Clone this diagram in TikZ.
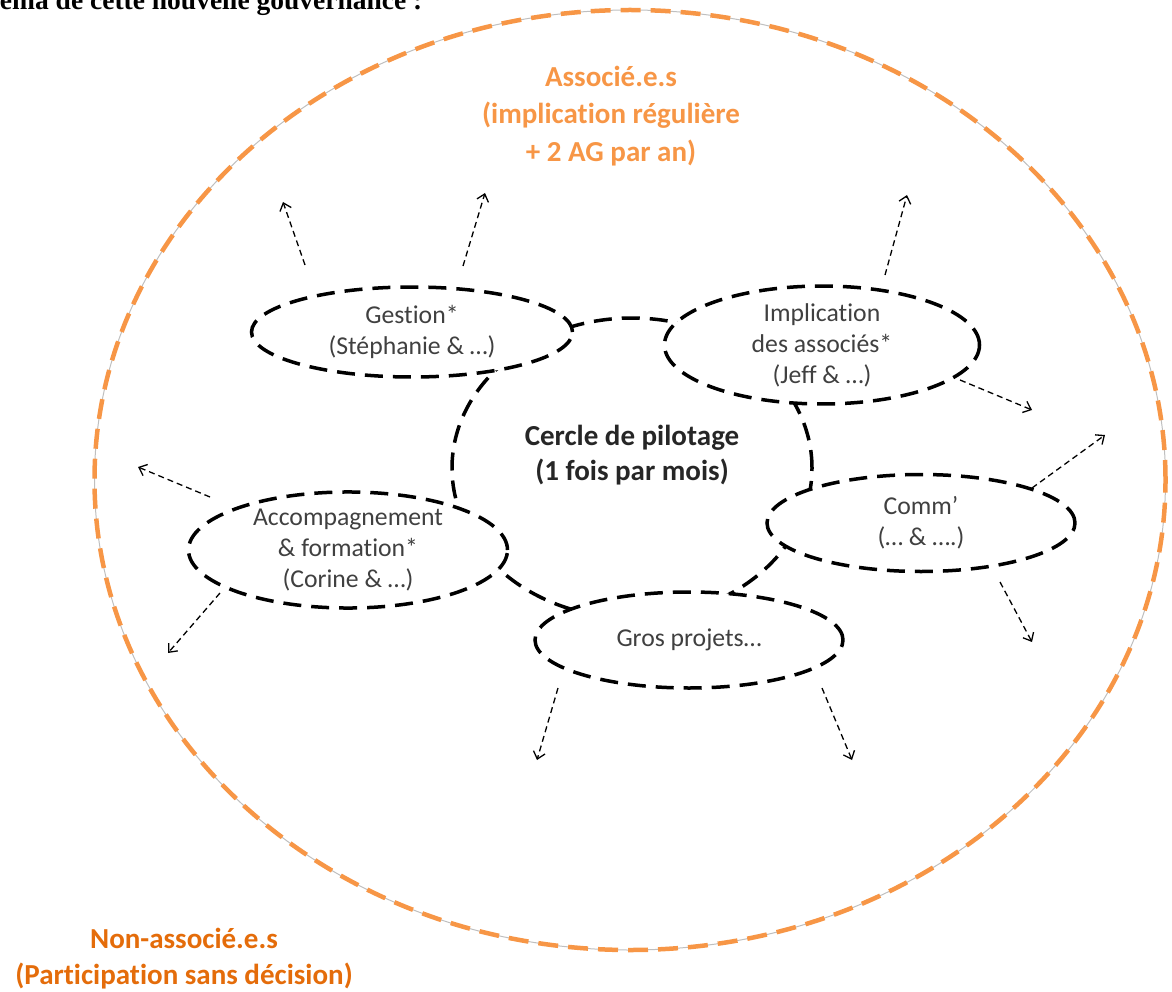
\documentclass[tikz,border=0pt]{standalone}
\usepackage{fontspec}
\setmainfont{Carlito}[Ligatures=NoCommon]
\newfontfamily\titrefont{Liberation Serif}
\usetikzlibrary{shapes.geometric,arrows.meta}
\definecolor{orangeclair}{RGB}{247,150,70}
\definecolor{orangefonce}{RGB}{228,108,10}
\definecolor{gristexte}{RGB}{64,64,64}
\begin{document}
\begin{tikzpicture}[x=1pt,y=-1pt,
    bulle/.style={ellipse,draw=black,fill=white,line width=3.5pt,dash pattern=on 18pt off 10pt,
        inner sep=0pt,align=center,text=gristexte,font=\fontsize{25.7}{31}\selectfont},
    fleche/.style={-{Straight Barb[length=7pt,width=12pt]},line width=1.3pt,dash pattern=on 6pt off 4pt},
    legende/.style={align=center,font=\fontsize{29}{37.5}\selectfont\bfseries}]
    \useasboundingbox (0,0) rectangle (1172,992);
    \clip (0,0) rectangle (1172,992);
    % titre coupe en haut de l'image
    \node[anchor=base west,inner sep=0pt,font=\titrefont\fontsize{27.5}{32}\selectfont\bfseries] (titre) at (-43,10) {Schéma de cette nouvelle gouvernance :};
    % grand cercle des associe.e.s
    \node[ellipse,inner sep=0pt,minimum width=1071pt,minimum height=940pt,
        draw=orangeclair,line width=4.5pt,dash pattern=on 20pt off 10pt,
        preaction={draw=gray!50,line width=1pt,solid}] (associes) at (630,480) {};
    \node[legende,text=orangeclair] (assoctxt) at (611,116) {Associé.e.s\\(implication régulière\\+ 2 AG par an)};
    \node[legende,text=orangefonce,font=\fontsize{29}{36}\selectfont\bfseries] (nonassoc) at (184,959) {Non-associé.e.s\\(Participation sans décision)};
    % cercle de pilotage (sous les bulles)
    \node[ellipse,draw=black,line width=3.5pt,dash pattern=on 18pt off 10pt,minimum width=360pt,minimum height=300pt] (pilotage) at (632,468) {};
    \node[align=center,text=black!85,font=\fontsize{29}{35}\selectfont\bfseries] (pilotagetxt) at (632,455) {Cercle de pilotage\\(1 fois par mois)};
    % les cercles de travail
    \node[bulle,minimum width=321pt,minimum height=90pt] (gestion) at (412,332) {Gestion*\\(Stéphanie \& \dots)};
    \node[bulle,minimum width=315pt,minimum height=96pt] (implication) at (822,345) {Implication\\des associés*\\(Jeff \& \dots)};
    \node[bulle,minimum width=319pt,minimum height=105pt] (accomp) at (348,550) {Accompagnement\\\& formation*\\(Corine \& \dots)};
    \node[bulle,minimum width=308pt,minimum height=97pt] (comm) at (921,523) {Comm’\\(\dots\ \& \dots.)};
    \node[bulle,minimum width=308pt,minimum height=96pt] (gros) at (689,640) {Gros projets\dots};
    % fleches vers l'exterieur
    \foreach \n/\sx/\sy/\dx/\dy in {gestion/-107/-67/-22/-63, gestion/51/-66/22/-73,
        implication/63/-70/22/-80, implication/138/35/72/30,
        comm/111/-35/73/-53, comm/79/59/32/60,
        accomp/-138/-53/-72/-30, accomp/-128/43/-52/60,
        gros/-131/48/-21/72, gros/133/48/30/72}
    \draw[fleche] ([shift={(\sx,\sy)}]\n.center) -- ++(\dx,\dy);
\end{tikzpicture}
\end{document}
